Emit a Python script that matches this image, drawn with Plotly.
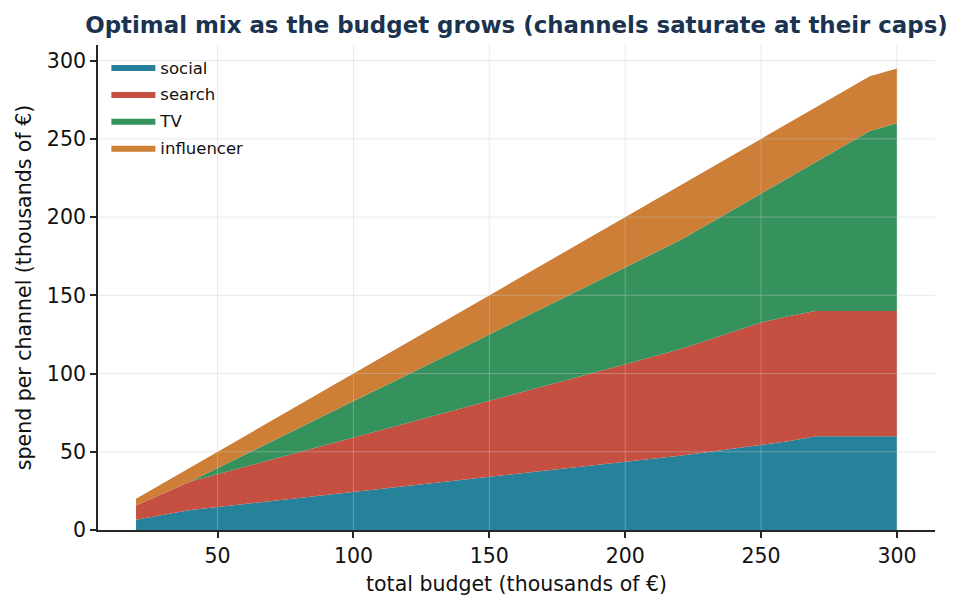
import plotly.graph_objects as go

# total budget (thousands of €)
budget = [20, 30, 40, 50, 60, 70, 80, 90, 100, 110, 120, 130, 140, 150, 160,
          170, 180, 190, 200, 210, 220, 230, 240, 250, 260, 270, 280, 290, 300]

# optimal spend per channel (thousands of €)
social = [6.6, 9.7, 12.8, 14.7, 16.6, 18.6, 20.5, 22.4, 24.3, 26.2, 28.2, 30.1, 32.0, 33.9, 35.8,
          37.8, 39.7, 41.6, 43.5, 45.4, 47.4, 49.7, 52.0, 54.4, 56.7, 60.0, 60.0, 60.0, 60.0]
search = [9.0, 13.6, 18.2, 21.0, 23.7, 26.5, 29.3, 32.1, 34.8, 37.6, 40.4, 43.1, 45.9, 48.7, 51.4,
          54.2, 57.0, 59.7, 62.5, 65.3, 68.1, 71.4, 74.7, 78.2, 80.0, 80.0, 80.0, 80.0, 80.0]
tv = [0, 0, 0, 3.9, 7.7, 11.6, 15.4, 19.3, 23.1, 27.0, 30.8, 34.7, 38.5, 42.4, 46.2,
      50.1, 53.9, 57.8, 61.6, 65.5, 69.5, 73.9, 78.3, 82.4, 88.3, 95.0, 105.0, 115.0, 120.0]
influencer = [4.4, 6.7, 9.0, 10.4, 12.0, 13.3, 14.8, 16.2, 17.8, 19.2, 20.6, 22.1, 23.6, 25.0, 26.6,
              27.9, 29.4, 30.9, 32.4, 33.8, 35.0, 35.0, 35.0, 35.0, 35.0, 35.0, 35.0, 35.0, 35.0]

x_ticks = [50, 100, 150, 200, 250, 300]
y_ticks = [0, 50, 100, 150, 200, 250, 300]

channels = [
    ("social", social, "#26829b"),
    ("search", search, "#c54f41"),
    ("TV", tv, "#35925c"),
    ("influencer", influencer, "#cd7e37"),
]

FONT = "DejaVu Sans"
GRID = "rgba(200,200,200,0.4)"
AXIS = "#262626"

fig = go.Figure()
for name, vals, color in channels:
    fig.add_trace(go.Scatter(
        x=budget, y=vals, name=name, stackgroup="mix", mode="lines",
        legendgroup=name,
        line=dict(width=0, color=color), fillcolor=color,
    ))

# grid drawn over the areas, as in the original
for v in x_ticks:
    fig.add_vline(x=v, line=dict(color=GRID, width=1), layer="above")
for v in y_ticks[1:]:
    fig.add_hline(y=v, line=dict(color=GRID, width=1), layer="above")

# the page body adds an 8px offset, so the figure is 8px smaller
fig.update_layout(
    width=953, height=600,
    margin=dict(l=90, r=26, t=37, b=78),
    paper_bgcolor="white", plot_bgcolor="white",
    font=dict(family=FONT, size=20.5, color="#111111"),
    title=dict(
        text="<b>Optimal mix as the budget grows (channels saturate at their caps)</b>",
        x=0.5, xref="paper", xanchor="center", y=0.972, yref="container", yanchor="middle",
        font=dict(family=FONT, size=22.9, color="#1a3350"),
    ),
    legend=dict(
        x=0.01, y=0.99, xanchor="left", yanchor="top",
        bgcolor="rgba(0,0,0,0)", font=dict(family=FONT, size=16.5),
        traceorder="grouped", itemwidth=44, tracegroupgap=2.4,
    ),
    hovermode=False,
)

fig.update_xaxes(
    range=[6, 314], tickvals=x_ticks,
    tickfont=dict(size=20.5),
    title=dict(text="total budget (thousands of €)", standoff=10, font=dict(size=20.5)),
    showline=True, linecolor=AXIS, linewidth=1.8,
    ticks="outside", ticklen=6, tickwidth=1.5, tickcolor=AXIS,
    showgrid=False, zeroline=False,
)
fig.update_yaxes(
    range=[0, 310], tickvals=y_ticks,
    tickfont=dict(size=20.5),
    title=dict(text="spend per channel (thousands of €)", standoff=10, font=dict(size=20.5)),
    showline=True, linecolor=AXIS, linewidth=1.8,
    ticks="outside", ticklen=6, tickwidth=1.5, tickcolor=AXIS,
    showgrid=False, zeroline=False,
)

fig.write_html("out.html")
